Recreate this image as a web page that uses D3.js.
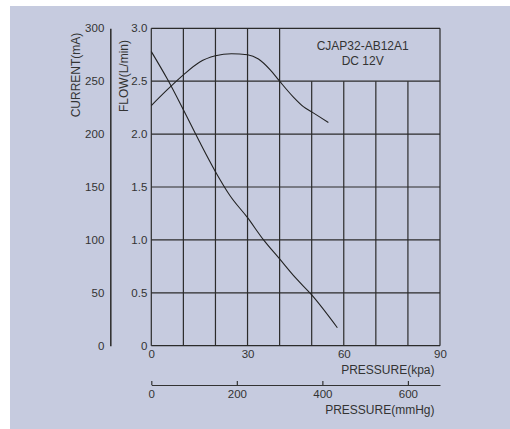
<!DOCTYPE html>
<html>
<head>
<meta charset="utf-8">
<script src="https://cdn.jsdelivr.net/npm/d3@7"></script>
<style>
  body { margin: 0; background: #fff; }
  svg text { font-family: "Liberation Sans", Arial, sans-serif; fill: #333; }
</style>
</head>
<body>
<div id="chart"></div>
<script>
"use strict";

(function () {
   // pressure (kpa) vs flow (L/min)
   const flowPressure = [0, 5, 10, 15, 20, 24.5, 30, 35, 40, 45, 50, 58];
   const flowValues = [2.78, 2.52, 2.23, 1.93, 1.645, 1.42, 1.21, 1.0, 0.82, 0.64, 0.48, 0.17];

   // pressure (kpa) vs current (mA)
   const currentPressure = [0, 5, 10, 15, 20, 25, 30, 33.4, 37, 40, 44.3, 47.4, 50, 55.2];
   const currentValues = [227, 242, 256, 268, 274, 276, 275, 271, 261, 250, 235, 226, 221, 211];

   const kpaTicks = [0, 30, 60, 90];
   const mmHgTicks = [0, 200, 400, 600];
   const flowTicks = [0, 0.5, 1.0, 1.5, 2.0, 2.5, 3.0];
   const currentTicks = [0, 50, 100, 150, 200, 250, 300];
   const gridKpa = [0, 10, 20, 30, 40, 50, 60, 70, 80, 90];
   const shortGridKpa = [50, 60, 70, 80];   // these stop at 2.5 L/min

   const titleLines = ["CJAP32-AB12A1", "DC 12V"];

   const width = 510;
   const height = 429;
   const left = 151.3, right = 440, top = 28.3, bottom = 345.7;
   const kpaPerMmHg = 0.133322;

   const svg = d3.select("#chart").append("svg")
      .attr("width", width)
      .attr("height", height);

   svg.append("rect")
      .attr("x", 10).attr("y", 6)
      .attr("width", width - 10).attr("height", height - 6)
      .attr("fill", "#c6cbdf");

   const x = d3.scaleLinear().domain([0, 90]).range([left, right]);
   const xm = d3.scaleLinear().domain([0, 90 / kpaPerMmHg]).range([left, right]);
   const y = d3.scaleLinear().domain([0, 3]).range([bottom, top]);
   const yc = d3.scaleLinear().domain([0, 300]).range([bottom, top]);

   // grid
   const grid = svg.append("g")
      .attr("stroke", "#2b2b2b")
      .attr("stroke-width", 1.2);

   grid.selectAll(".h")
      .data(flowTicks)
      .enter().append("line")
      .attr("x1", x(0)).attr("x2", x(90))
      .attr("y1", d => y(d)).attr("y2", d => y(d));

   grid.selectAll(".v")
      .data(gridKpa)
      .enter().append("line")
      .attr("x1", d => x(d)).attr("x2", d => x(d))
      .attr("y1", y(0))
      .attr("y2", d => shortGridKpa.includes(d) ? y(2.5) : y(3));

   // curves
   const flowLine = d3.line()
      .x(d => x(d[0]))
      .y(d => y(d[1]))
      .curve(d3.curveMonotoneX);

   const currentLine = d3.line()
      .x(d => x(d[0]))
      .y(d => yc(d[1]))
      .curve(d3.curveMonotoneX);

   svg.append("path")
      .datum(d3.zip(flowPressure, flowValues))
      .attr("d", flowLine)
      .attr("fill", "none")
      .attr("stroke", "#222")
      .attr("stroke-width", 1.1);

   svg.append("path")
      .datum(d3.zip(currentPressure, currentValues))
      .attr("d", currentLine)
      .attr("fill", "none")
      .attr("stroke", "#222")
      .attr("stroke-width", 1.1);

   function styleAxis(g) {
      g.selectAll("text")
         .style("font-family", "'Liberation Sans', Arial, sans-serif")
         .style("font-size", "11.5px")
         .attr("fill", "#333");
      g.selectAll("path, line").attr("stroke", "#333");
   }

   // flow axis (labels only)
   const flowAxis = svg.append("g")
      .attr("transform", `translate(${left},0)`)
      .call(d3.axisLeft(y)
         .tickValues(flowTicks)
         .tickSize(0)
         .tickPadding(4)
         .tickFormat(d => d === 0 ? "0" : d.toFixed(1)))
      .call(styleAxis);
   flowAxis.select(".domain").remove();

   // current axis
   svg.append("g")
      .attr("transform", "translate(110.3,0)")
      .call(d3.axisLeft(yc)
         .tickValues(currentTicks)
         .tickSize(0)
         .tickPadding(6))
      .call(styleAxis)
      .select(".domain")
      .attr("stroke-width", 1.6);

   // kpa axis (labels only)
   const kpaAxis = svg.append("g")
      .attr("transform", `translate(0,${bottom})`)
      .call(d3.axisBottom(x)
         .tickValues(kpaTicks)
         .tickSize(0)
         .tickPadding(4))
      .call(styleAxis);
   kpaAxis.select(".domain").remove();

   // mmHg axis
   svg.append("g")
      .attr("transform", "translate(0,385)")
      .call(d3.axisBottom(xm)
         .tickValues(mmHgTicks)
         .tickSizeInner(-4)
         .tickSizeOuter(0)
         .tickPadding(4.5))
      .call(styleAxis)
      .selectAll("path, line")
      .attr("stroke-width", 1.2);

   // axis titles
   svg.append("text")
      .attr("x", 434.5).attr("y", 373.5)
      .attr("text-anchor", "end")
      .style("font-size", "12px")
      .text("PRESSURE(kpa)");

   svg.append("text")
      .attr("x", 434.5).attr("y", 414)
      .attr("text-anchor", "end")
      .style("font-size", "12px")
      .text("PRESSURE(mmHg)");

   svg.append("text")
      .attr("transform", "translate(80,75) rotate(-90)")
      .attr("text-anchor", "middle")
      .style("font-size", "12px")
      .text("CURRENT(mA)");

   svg.append("text")
      .attr("transform", "translate(127.5,76) rotate(-90)")
      .attr("text-anchor", "middle")
      .style("font-size", "12px")
      .text("FLOW(L/min)");

   svg.selectAll(".title")
      .data(titleLines)
      .enter().append("text")
      .attr("x", 362.7)
      .attr("y", (d, i) => 50 + i * 15)
      .attr("text-anchor", "middle")
      .style("font-size", "12px")
      .text(d => d);
})();
</script>
</body>
</html>
